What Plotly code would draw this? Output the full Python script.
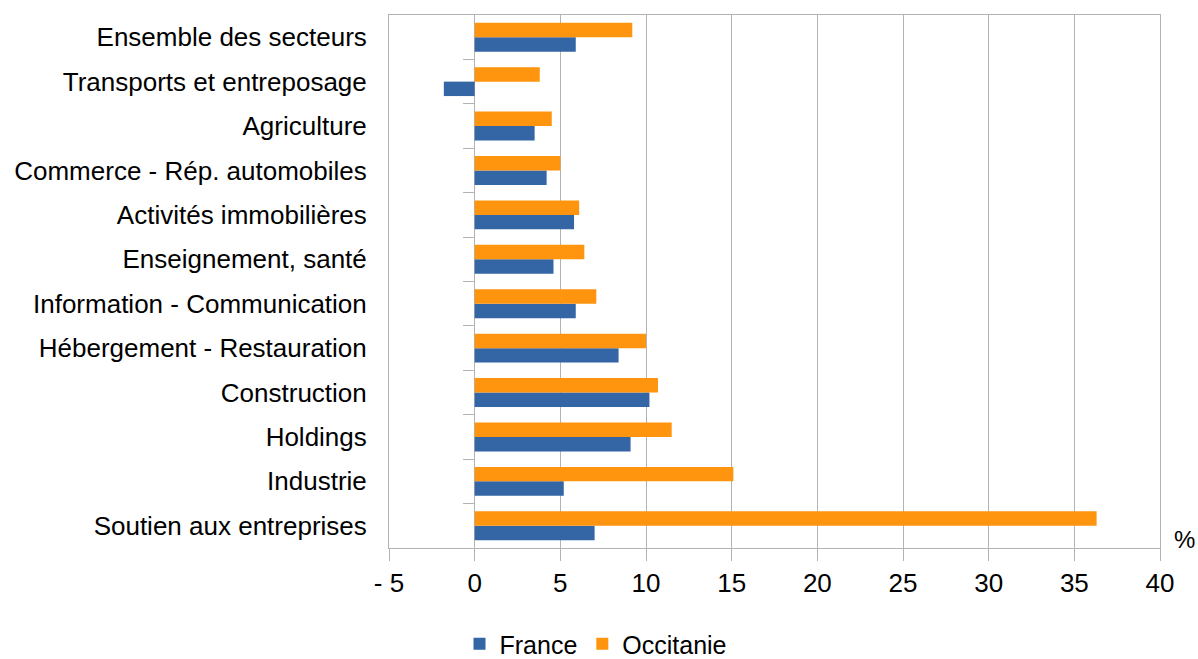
import plotly.graph_objects as go

# Secteurs, listed top to bottom as displayed
secteurs = [
    "Ensemble des secteurs",
    "Transports et entreposage",
    "Agriculture",
    "Commerce - Rép. automobiles",
    "Activités immobilières",
    "Enseignement, santé",
    "Information - Communication",
    "Hébergement - Restauration",
    "Construction",
    "Holdings",
    "Industrie",
    "Soutien aux entreprises",
]
france = [5.9, -1.8, 3.5, 4.2, 5.8, 4.6, 5.9, 8.4, 10.2, 9.1, 5.2, 7.0]
occitanie = [9.2, 3.8, 4.5, 5.0, 6.1, 6.4, 7.1, 10.0, 10.7, 11.5, 15.1, 36.3]

x_ticks = [-5, 0, 5, 10, 15, 20, 25, 30, 35, 40]
x_tick_text = ["- 5", "0", "5", "10", "15", "20", "25", "30", "35", "40"]

W, H = 1198, 659
M_L, M_R, M_T, M_B = 389, 38, 15, 111
plot_w = W - M_L - M_R
plot_h = H - M_T - M_B
x_min, x_max = -5, 40

BLUE = "#3465a4"
ORANGE = "#ff950e"
GRID = "#b3b3b3"
FAMILY = "Liberation Sans, Arial, sans-serif"
FONT = dict(family=FAMILY, size=26, color="#000000")

# bottom-to-top order for the category axis
order = secteurs[::-1]

fig = go.Figure()
fig.add_trace(go.Bar(
    y=secteurs, x=france, name="France", orientation="h",
    marker=dict(color=BLUE, line=dict(width=0)),
))
fig.add_trace(go.Bar(
    y=secteurs, x=occitanie, name="Occitanie", orientation="h",
    marker=dict(color=ORANGE, line=dict(width=0)),
))

# boundary ticks between categories, drawn on the zero line
n = len(secteurs)
boundaries = [i + 0.5 for i in range(n - 1)]
fig.add_trace(go.Scatter(x=[None], y=[None], yaxis="y2", showlegend=False,
                         hoverinfo="skip"))

zero_pos = (0 - x_min) / (x_max - x_min)

fig.update_layout(
    width=W, height=H,
    margin=dict(l=M_L, r=M_R, t=M_T, b=M_B, autoexpand=False),
    paper_bgcolor="white", plot_bgcolor="white",
    font=FONT,
    barmode="group",
    bargap=0.35, bargroupgap=0.0,
    showlegend=True,
    legend=dict(
        orientation="h", x=(596 - M_L) / plot_w, xanchor="center",
        y=-(644 - (M_T + plot_h)) / plot_h, yanchor="middle",
        font=dict(family=FAMILY, size=25, color="#000000"),
        itemwidth=30, traceorder="normal",
        bgcolor="rgba(0,0,0,0)",
    ),
    xaxis=dict(
        range=[x_min, x_max], tickvals=x_ticks, ticktext=x_tick_text,
        showgrid=True, gridcolor=GRID, gridwidth=1,
        zeroline=True, zerolinecolor=GRID, zerolinewidth=1,
        showline=True, linecolor=GRID, linewidth=1, mirror=True,
        ticks="outside", ticklen=12, tickcolor=GRID,
        fixedrange=True,
    ),
    yaxis=dict(
        type="category", categoryorder="array", categoryarray=order,
        range=[-0.5, n - 0.5],
        showgrid=False, zeroline=False,
        showline=True, linecolor=GRID, linewidth=1, mirror=True,
        ticks="outside", ticklen=16, tickcolor="rgba(0,0,0,0)",
        fixedrange=True,
    ),
    yaxis2=dict(
        overlaying="y", anchor="free", side="left",
        position=zero_pos,
        range=[-0.5, n - 0.5], tickvals=boundaries,
        showticklabels=False, showgrid=False, zeroline=False, showline=False,
        ticks="outside", ticklen=12, tickcolor=GRID, tickwidth=1,
        fixedrange=True,
    ),
    annotations=[dict(
        text="%", xref="paper", yref="paper",
        x=(1197 - M_L) / plot_w, xanchor="right",
        y=(M_T + plot_h - 539) / plot_h, yanchor="middle",
        showarrow=False, font=dict(family=FAMILY, size=24, color="#000000"),
    )],
)

fig.write_html("out.html")
